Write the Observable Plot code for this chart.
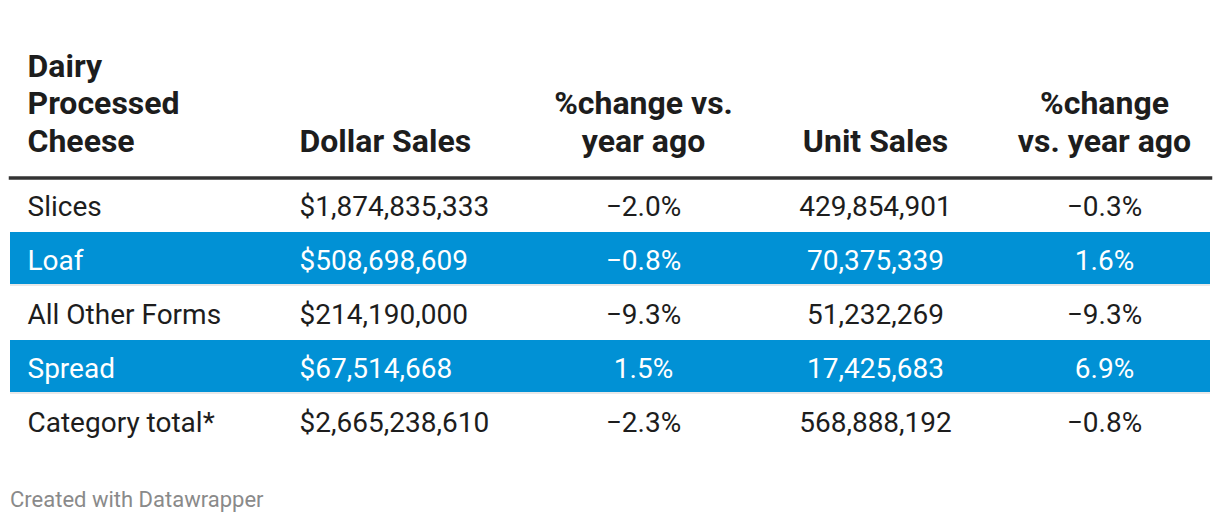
<!DOCTYPE html>
<html>
<head>
<meta charset="utf-8">
<script src="https://cdn.jsdelivr.net/npm/d3@7"></script>
<script src="https://cdn.jsdelivr.net/npm/@observablehq/plot@0.6"></script>
<style>
  html, body { margin: 0; padding: 0; background: #fff; }
  #wrap { position: relative; width: 1220px; height: 524px; font-family: Roboto, sans-serif; }
  #footer { position: absolute; left: 10px; top: 487px; font-size: 22px; line-height: 26px; color: #8a8a8a; font-family: Roboto, sans-serif; }
</style>
</head>
<body>
<div id="wrap">
  <div id="chart"></div>
  <div id="footer">Created with Datawrapper</div>
</div>
<script>
// ---- data ----
const categories = ["Slices", "Loaf", "All Other Forms", "Spread", "Category total*"];
const dollarSales = [1874835333, 508698609, 214190000, 67514668, 2665238610];
const dollarChange = [-2.0, -0.8, -9.3, 1.5, -2.3];
const unitSales = [429854901, 70375339, 51232269, 17425683, 568888192];
const unitChange = [-0.3, 1.6, -9.3, 6.9, -0.8];
const columnLabels = ["Dairy\nProcessed\nCheese", "Dollar Sales", "%change vs.\nyear ago", "Unit Sales", "%change\nvs. year ago"];
const highlighted = ["Loaf", "Spread"];

// ---- layout (table units, 0..1200) ----
const colX = [17, 289, 633, 865, 1094];
const colAnchor = ["start", "start", "middle", "middle", "middle"];

const fmtDollar = d3.format("$,");
const fmtInt = d3.format(",");
const fmtPct = v => d3.format(".1f")(v) + "%";

const rows = categories.map((name, i) => ({
  name,
  cells: [name, fmtDollar(dollarSales[i]), fmtPct(dollarChange[i]), fmtInt(unitSales[i]), fmtPct(unitChange[i])],
  hl: highlighted.includes(name)
}));
const hlRows = rows.filter(r => r.hl);
const header = columnLabels.map((label, i) => ({label, i}));

const textColor = "#1d1d1d";
const blue = "#0191d5";

const marks = [
  Plot.cell(hlRows, {y: "name", fill: "#e8e8e8"}),
  Plot.cell(hlRows, {y: "name", fill: blue, insetBottom: 2}),
  Plot.frame({anchor: "top", stroke: "#333333", strokeWidth: 3.5, dy: -0.5})
];

// header labels
for (const anchor of ["start", "middle"]) {
  marks.push(Plot.text(header.filter(h => colAnchor[h.i] === anchor), {
    x: h => colX[h.i],
    text: "label",
    frameAnchor: "top",
    lineAnchor: "bottom",
    textAnchor: anchor,
    dy: -27,
    lineHeight: 1.17,
    fontSize: 32,
    fontWeight: "bold",
    fill: textColor
  }));
}

// body cells
for (let c = 0; c < 5; c++) {
  marks.push(Plot.text(rows, {
    x: () => colX[c],
    y: "name",
    text: r => r.cells[c],
    textAnchor: colAnchor[c],
    lineAnchor: "middle",
    dy: 2,
    fontSize: 28,
    fill: r => r.hl ? "#ffffff" : textColor
  }));
}

const chart = Plot.plot({
  width: 1220,
  height: 466,
  marginTop: 178,
  marginBottom: 18,
  marginLeft: 10,
  marginRight: 10,
  x: {domain: [0, 1200], axis: null},
  y: {domain: categories, range: [178, 448], padding: 0, axis: null},
  color: {type: "identity"},
  style: {fontFamily: "Roboto, sans-serif", background: "#fff"},
  marks
});
document.getElementById("chart").appendChild(chart);
</script>
</body>
</html>
